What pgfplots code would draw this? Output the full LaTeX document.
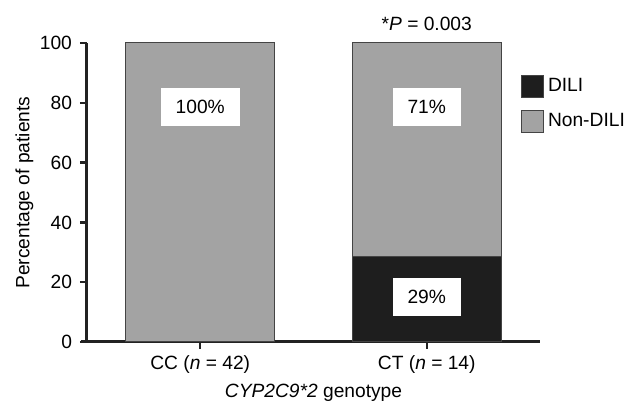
\documentclass[border=0pt]{standalone}
\usepackage{pgfplots}
\pgfplotsset{compat=1.18}
\usepackage{fontspec}
\setmainfont{Liberation Sans}
\definecolor{barblack}{HTML}{1E1E1E}
\definecolor{bargray}{HTML}{A3A3A3}
\definecolor{edgegray}{HTML}{444444}
\definecolor{axcol}{HTML}{222222}
\newcommand{\ff}{\fontsize{9.6}{11.5}\selectfont}
\begin{document}
\begin{tikzpicture}
\useasboundingbox (-43.5pt,-31.5pt) rectangle (269.5pt,171pt);
\begin{axis}[
  scale only axis,
  width=226.5pt, height=149.5pt,
  font=\ff,
  /pgf/number format/assume math mode=true,
  ybar stacked,
  bar width=74.5pt,
  xmin=-0.5, xmax=1.5,
  ymin=0, ymax=100,
  xtick={0,1},
  xticklabels={CC (\textit{n} = 42), CT (\textit{n} = 14)},
  ytick={0,20,40,60,80,100},
  axis x line=bottom, axis y line=left,
  axis line style={line width=1.5pt, color=axcol, -},
  x axis line style={shorten <=-3pt},
  tick style={line width=1.2pt, color=axcol},
  major tick length=3.5pt,
  tick align=outside,
  xtick pos=bottom, ytick pos=left,
  xticklabel style={yshift=0pt},
  yticklabel style={xshift=-0.5pt},
  ylabel={Percentage of patients},
  ylabel style={at={(axis description cs:-0.138,0.5)}, anchor=center, rotate=0},
  xlabel={\textit{CYP2C9*2} genotype},
  xlabel style={at={(axis description cs:0.5,-0.171)}, anchor=center},
  clip=false,
  legend style={at={(axis description cs:0.944,0.91)}, anchor=north west, draw=none, fill=none, row sep=5.5pt, font=\ff, nodes={inner xsep=2pt}},
  legend cell align=left,
  legend image code/.code={\draw[#1] (0pt,-5.5pt) rectangle (11pt,5.5pt);},
]
\addplot[fill=barblack, draw=edgegray, line width=0.5pt] coordinates {(0,0) (1,28.57)};
\addplot[fill=bargray, draw=edgegray, line width=0.5pt] coordinates {(0,100) (1,71.43)};
\legend{DILI, Non-DILI}
\coordinate (lA) at (axis cs:0,78.6);
\coordinate (lB) at (axis cs:1,78.6);
\coordinate (lC) at (axis cs:1,15);
\coordinate (lP) at (axis cs:1,106.5);
\end{axis}
\tikzset{lab/.style={fill=white, minimum height=19pt, inner xsep=7.5pt, inner ysep=0pt, font=\ff}}
\node[lab] at (lA) {100\%};
\node[lab] at (lB) {71\%};
\node[lab] at (lC) {29\%};
\node[font=\ff] at (lP) {*\textit{P} = 0.003};
\end{tikzpicture}
\end{document}
